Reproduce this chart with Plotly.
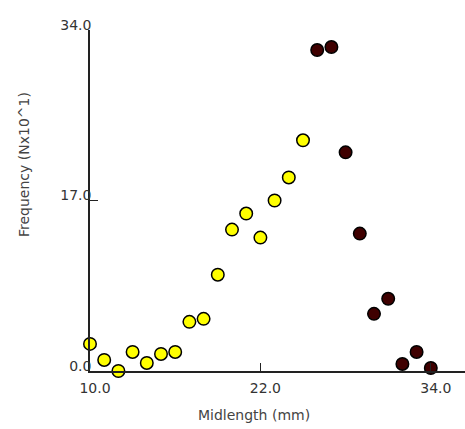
import plotly.graph_objects as go

# Data
midlength_a = [10, 11, 12, 13, 14, 15, 16, 17, 18, 19, 20, 21, 22, 23, 24, 25]
freq_a = [2.7, 1.1, 0.0, 1.9, 0.8, 1.7, 1.9, 4.9, 5.2, 9.6, 14.1, 15.7, 13.3, 17.0, 19.3, 23.0]
midlength_b = [26, 27, 28, 29, 30, 31, 32, 33, 34]
freq_b = [32.0, 32.3, 21.8, 13.7, 5.7, 7.2, 0.7, 1.9, 0.3]

x_ticks = [10, 22, 34]
y_ticks = [0, 17, 34]
x_title = "Midlength (mm)"
y_title = "Frequency (Nx10^1)"

FONT = "DejaVu Sans"

fig = go.Figure()
fig.add_trace(go.Scatter(
    x=midlength_a, y=freq_a, mode="markers", cliponaxis=False,
    marker=dict(size=12.5, color="#ffff00", line=dict(color="#000000", width=1.5)),
    showlegend=False))
fig.add_trace(go.Scatter(
    x=midlength_b, y=freq_b, mode="markers", cliponaxis=False,
    marker=dict(size=12.5, color="#3f0000", line=dict(color="#000000", width=1.5)),
    showlegend=False))

fig.update_layout(
    width=465, height=429,
    margin=dict(l=90, r=0, t=30, b=58),
    paper_bgcolor="white", plot_bgcolor="white",
    font=dict(family=FONT, size=14, color="#333333"),
    xaxis=dict(range=[10, 10 + 375 / 14.2], tickvals=x_ticks, tickformat=".1f",
               ticks="inside", ticklen=8, tickcolor="#222", tickwidth=1.2,
               ticklabelshift=5, ticklabelstandoff=3,
               showline=True, linecolor="#222", linewidth=1.5,
               showgrid=False, zeroline=False),
    yaxis=dict(range=[0, 34], tickvals=y_ticks, tickformat=".1f",
               ticks="inside", ticklen=8, tickcolor="#222", tickwidth=1.2,
               ticklabelshift=-5, ticklabelstandoff=-6,
               showline=True, linecolor="#222", linewidth=1.5,
               showgrid=False, zeroline=False),
    annotations=[
        dict(text=x_title, xref="paper", yref="paper", x=(254 - 90) / 375, y=(371 - 415) / 341,
             showarrow=False, xanchor="center", yanchor="middle",
             font=dict(family=FONT, size=14, color="#444444")),
        dict(text=y_title, xref="paper", yref="paper", x=(24 - 90) / 375, y=(371 - 165) / 341,
             showarrow=False, xanchor="center", yanchor="middle", textangle=-90,
             font=dict(family=FONT, size=14, color="#444444")),
    ],
)

fig.write_html("out.html", config={"displayModeBar": False},
               post_script="document.body.style.margin='0';")
